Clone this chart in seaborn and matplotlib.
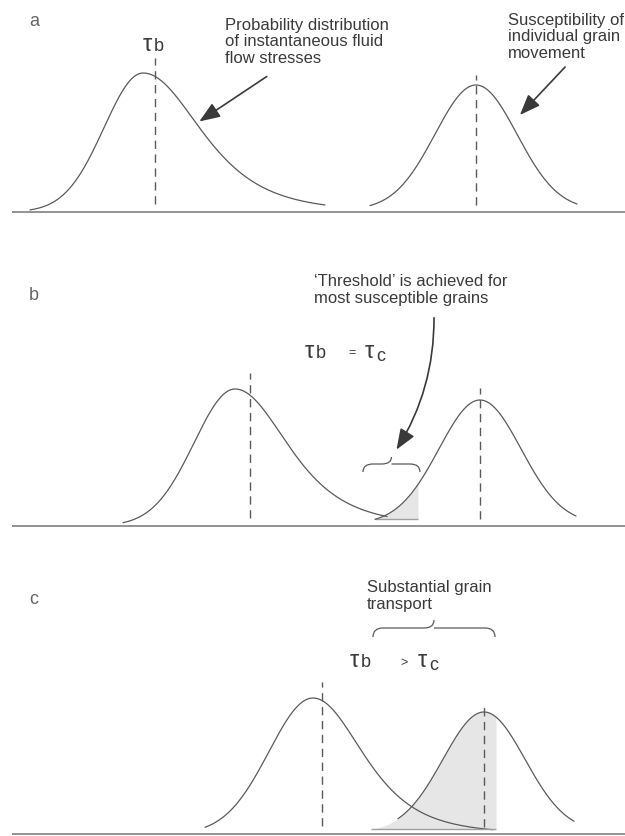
import numpy as np
import matplotlib
matplotlib.use("Agg")
import matplotlib.pyplot as plt
from matplotlib.patches import FancyArrowPatch, PathPatch
from matplotlib.path import Path
import seaborn as sns

# Figure geometry (pixels) for the three stacked panels
W, H = 625, 836
panel_names = ["a", "b", "c"]
panel_top = [0, 250, 560]
panel_bottom = [250, 560, 836]
baseline_px = [212, 526, 834]
letter_y = [22, 295, 600]

# Instantaneous fluid flow stress distribution (right-skewed, long tail)
flow_peak = [143, 235, 313]
flow_height = [139, 137, 136]
flow_sigma_left = [39, 41, 44]
flow_sigma_right = [60, 55, 52]
flow_start = [30, 123, 205]
flow_end = [325, 387, 493]
tau_b = [155, 250, 322]
tau_b_top = [154, 153, 152]

# Susceptibility of individual grain movement (symmetric)
grain_peak = [476, 480, 484]
grain_height = [127, 126, 122]
grain_sigma = [41, 41, 41]
grain_start = [370, 375, 398]
grain_end = [577, 576, 574]
tau_c_top = [137, 138, 132]

# shaded part of the grain distribution that is moved
moved_from = [None, 375, 371]
moved_to = [None, 418, 496]

LINE = "#5a5a5a"
TEXT = "#3a3a3a"

sns.set_theme(style="white")
plt.rcParams["font.family"] = ["Liberation Sans", "DejaVu Sans"]


def flow_curve(x, peak, height, s_left, s_right):
    z = x - peak
    left = np.exp(-0.5 * (z / s_left) ** 2)
    right = (1 + (z / s_right) ** 2 / 4) ** -2.5
    return height * np.where(z < 0, left, right)


def grain_curve(x, peak, height, s):
    return 2 + (height - 2) * np.exp(-0.5 * ((x - peak) / s) ** 2)


def brace(ax, x1, x2, y_end, y_mid, y_tip):
    # curly brace opening downwards, tip pointing up
    xm = (x1 + x2) / 2
    w = min(10, (x2 - x1) / 5)
    verts = [(x1, y_end), (x1, y_mid), (x1 + w, y_mid),
             (xm - w, y_mid),
             (xm, y_mid), (xm, y_tip),
             (xm, y_mid), (xm + w, y_mid),
             (x2 - w, y_mid),
             (x2, y_mid), (x2, y_end)]
    codes = [Path.MOVETO, Path.CURVE3, Path.CURVE3,
             Path.LINETO,
             Path.CURVE3, Path.CURVE3,
             Path.MOVETO, Path.CURVE3,
             Path.LINETO,
             Path.CURVE3, Path.CURVE3]
    ax.add_patch(PathPatch(Path(verts, codes), fill=False, edgecolor=LINE, lw=0.9))


def tau(ax, x, y, sub, big=17, small=13, dx=11, dy=0):
    # tau with its suffix letter, y is the text baseline
    ax.text(x, y, "τ", fontsize=big, color=TEXT, ha="left", va="baseline")
    ax.text(x + dx, y - dy, sub, fontsize=small, color=TEXT, ha="left", va="baseline")


fig = plt.figure(figsize=(W / 100, H / 100), dpi=100)
axes = []
for i in range(3):
    top, bot, base = panel_top[i], panel_bottom[i], baseline_px[i]
    ax = fig.add_axes([0, 1 - bot / H, 1, (bot - top) / H])
    ax.set_xlim(0, W)
    ax.set_ylim(base - bot, base - top)
    ax.axis("off")
    axes.append(ax)

    # axis line
    ax.hlines(0, 12, W, color="#8a8a8a", lw=1.3)

    # fluid stress curve
    xf = np.linspace(flow_start[i], flow_end[i], 300)
    yf = flow_curve(xf, flow_peak[i], flow_height[i], flow_sigma_left[i], flow_sigma_right[i])
    sns.lineplot(x=xf, y=yf, ax=ax, color=LINE, lw=0.9)
    ax.vlines(tau_b[i], 8, tau_b_top[i], color=LINE, lw=1.0, linestyles=(0, (6, 4)))

    # grain susceptibility curve
    xg = np.linspace(grain_start[i], grain_end[i], 300)
    yg = grain_curve(xg, grain_peak[i], grain_height[i], grain_sigma[i])
    if moved_to[i] is not None:
        xs = np.linspace(moved_from[i], moved_to[i], 200)
        ys = grain_curve(xs, grain_peak[i], grain_height[i], grain_sigma[i])
        ax.fill_between(xs, ys[0], ys, color="#e6e6e6", lw=0, zorder=0)
        ax.hlines(ys[0], moved_from[i], moved_to[i], color="#a0a0a0", lw=1.0)
    sns.lineplot(x=xg, y=yg, ax=ax, color=LINE, lw=0.9)
    ax.vlines(grain_peak[i], 7, tau_c_top[i], color=LINE, lw=1.0, linestyles=(0, (6, 4)))

    ax.text(29, base - letter_y[i], panel_names[i], fontsize=13,
            color="#666666", ha="left", va="center")

arrow_kw = dict(arrowstyle="-|>,head_length=0.9,head_width=0.35",
                mutation_scale=14, color="#3a3a3a", lw=1.2)
note_kw = dict(fontsize=12, color=TEXT, ha="left", va="center", linespacing=1.15)

# panel a
ax, b = axes[0], baseline_px[0]
tau(ax, 143, b - 51, "b")
ax.text(225, b - 42, "Probability distribution\nof instantaneous fluid\nflow stresses", **note_kw)
ax.text(508, b - 37, "Susceptibility of\nindividual grain\nmovement", **note_kw)
ax.add_patch(FancyArrowPatch((269, b - 75), (197, b - 123), **arrow_kw))
ax.add_patch(FancyArrowPatch((567, b - 65), (518, b - 117), **arrow_kw))

# panel b
ax, b = axes[1], baseline_px[1]
ax.text(314, b - 290, "\u2018Threshold\u2019 is achieved for\nmost susceptible grains", **note_kw)
tau(ax, 305, b - 358, "b")
ax.text(348, b - 353, "=", fontsize=9, color=TEXT, ha="left", va="center")
tau(ax, 365, b - 358, "c", dy=3)
brace(ax, 363, 420, b - 472, b - 464, b - 457)
ax.add_patch(FancyArrowPatch((434, b - 315), (395, b - 452),
                             connectionstyle="arc3,rad=-0.15", **arrow_kw))

# panel c
ax, b = axes[2], baseline_px[2]
ax.text(367, b - 596, "Substantial grain\ntransport", **note_kw)
brace(ax, 373, 495, b - 637, b - 628, b - 620)
tau(ax, 350, b - 667, "b")
ax.text(400, b - 663, ">", fontsize=9, color=TEXT, ha="left", va="center")
tau(ax, 418, b - 667, "c", dy=3)

fig.savefig("out.png", dpi=100, facecolor="white")
